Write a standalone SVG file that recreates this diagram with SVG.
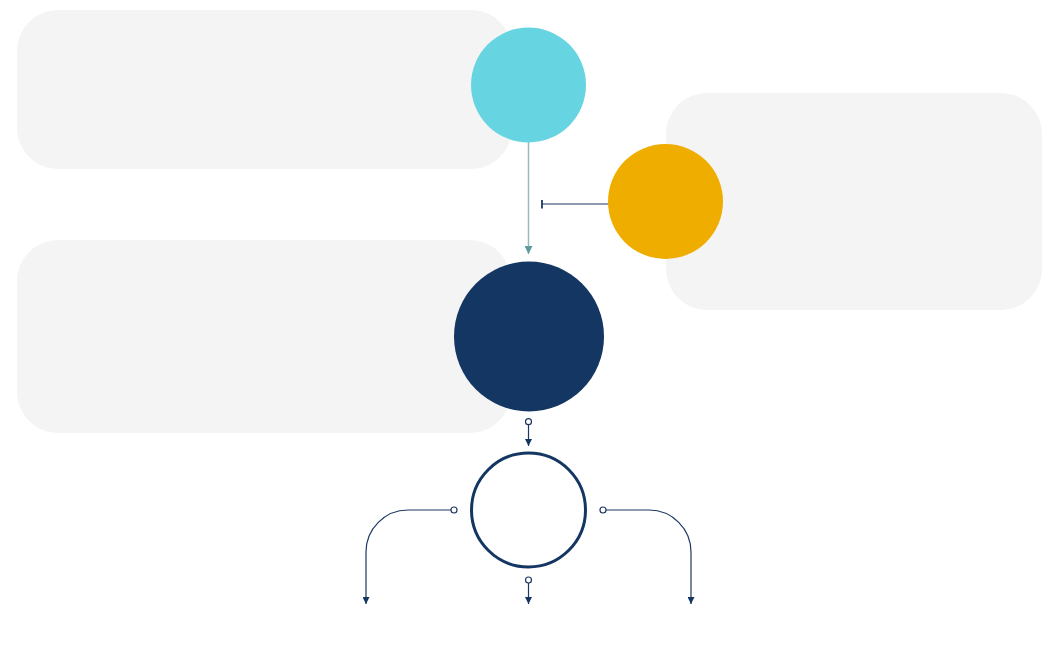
<svg xmlns="http://www.w3.org/2000/svg" width="1064" height="659" viewBox="0 0 1064 659">
<style>
.box{fill:#f4f4f4}
.ln{fill:none;stroke:#1d3763;stroke-width:1.2}
.dot{fill:#ffffff;stroke:#1d3763;stroke-width:1.2}
</style>
<defs>
<marker id="arrN" viewBox="0 0 10 10" refX="10" refY="5" markerWidth="7" markerHeight="7" markerUnits="userSpaceOnUse" orient="auto"><path d="M0,0 L10,5 L0,10 Z" fill="#143662"/></marker>
<marker id="arrT" viewBox="0 0 10 10" refX="10" refY="5" markerWidth="8" markerHeight="8" markerUnits="userSpaceOnUse" orient="auto"><path d="M0,0 L10,5 L0,10 Z" fill="#5e9b9d"/></marker>
<marker id="bar" viewBox="0 0 2 10" refX="1" refY="5" markerWidth="2" markerHeight="9" markerUnits="userSpaceOnUse" orient="auto"><rect x="0" y="0" width="2" height="10" fill="#1d3763"/></marker>
</defs>
<rect width="1064" height="659" fill="#ffffff"/>
<g id="box1"><rect class="box" x="17" y="10" width="495" height="159" rx="41"/></g>
<g id="box2"><rect class="box" x="17" y="240" width="494" height="193" rx="41"/></g>
<g id="box3"><rect class="box" x="666" y="93" width="376" height="217" rx="41"/></g>
<g id="connectors">
<line x1="528.5" y1="142" x2="528.5" y2="254" stroke="#9bb9bc" stroke-width="1.5" marker-end="url(#arrT)"/>
<line x1="609" y1="204" x2="542" y2="204" class="ln" marker-end="url(#bar)"/>
<line x1="528.5" y1="425" x2="528.5" y2="446" class="ln" marker-end="url(#arrN)"/>
<path d="M451,510 H408 A42,42 0 0 0 366,552 V604" class="ln" marker-end="url(#arrN)"/>
<path d="M606,510 H649 A42,42 0 0 1 691,552 V604" class="ln" marker-end="url(#arrN)"/>
<line x1="528.5" y1="583" x2="528.5" y2="604" class="ln" marker-end="url(#arrN)"/>
<circle class="dot" cx="528.5" cy="421.7" r="3"/>
<circle class="dot" cx="454" cy="510" r="3"/>
<circle class="dot" cx="603" cy="510" r="3"/>
<circle class="dot" cx="528.5" cy="580" r="3"/>
</g>
<g id="cyan"><circle cx="528.5" cy="85" r="57.5" fill="#67d4e1"/></g>
<g id="orange"><circle cx="665.5" cy="201.5" r="57.5" fill="#efad00"/></g>
<g id="navy"><circle cx="529" cy="336.5" r="75" fill="#143662"/></g>
<g id="ring"><circle cx="528.5" cy="510" r="57" fill="#ffffff" stroke="#143662" stroke-width="3"/></g>
</svg>
